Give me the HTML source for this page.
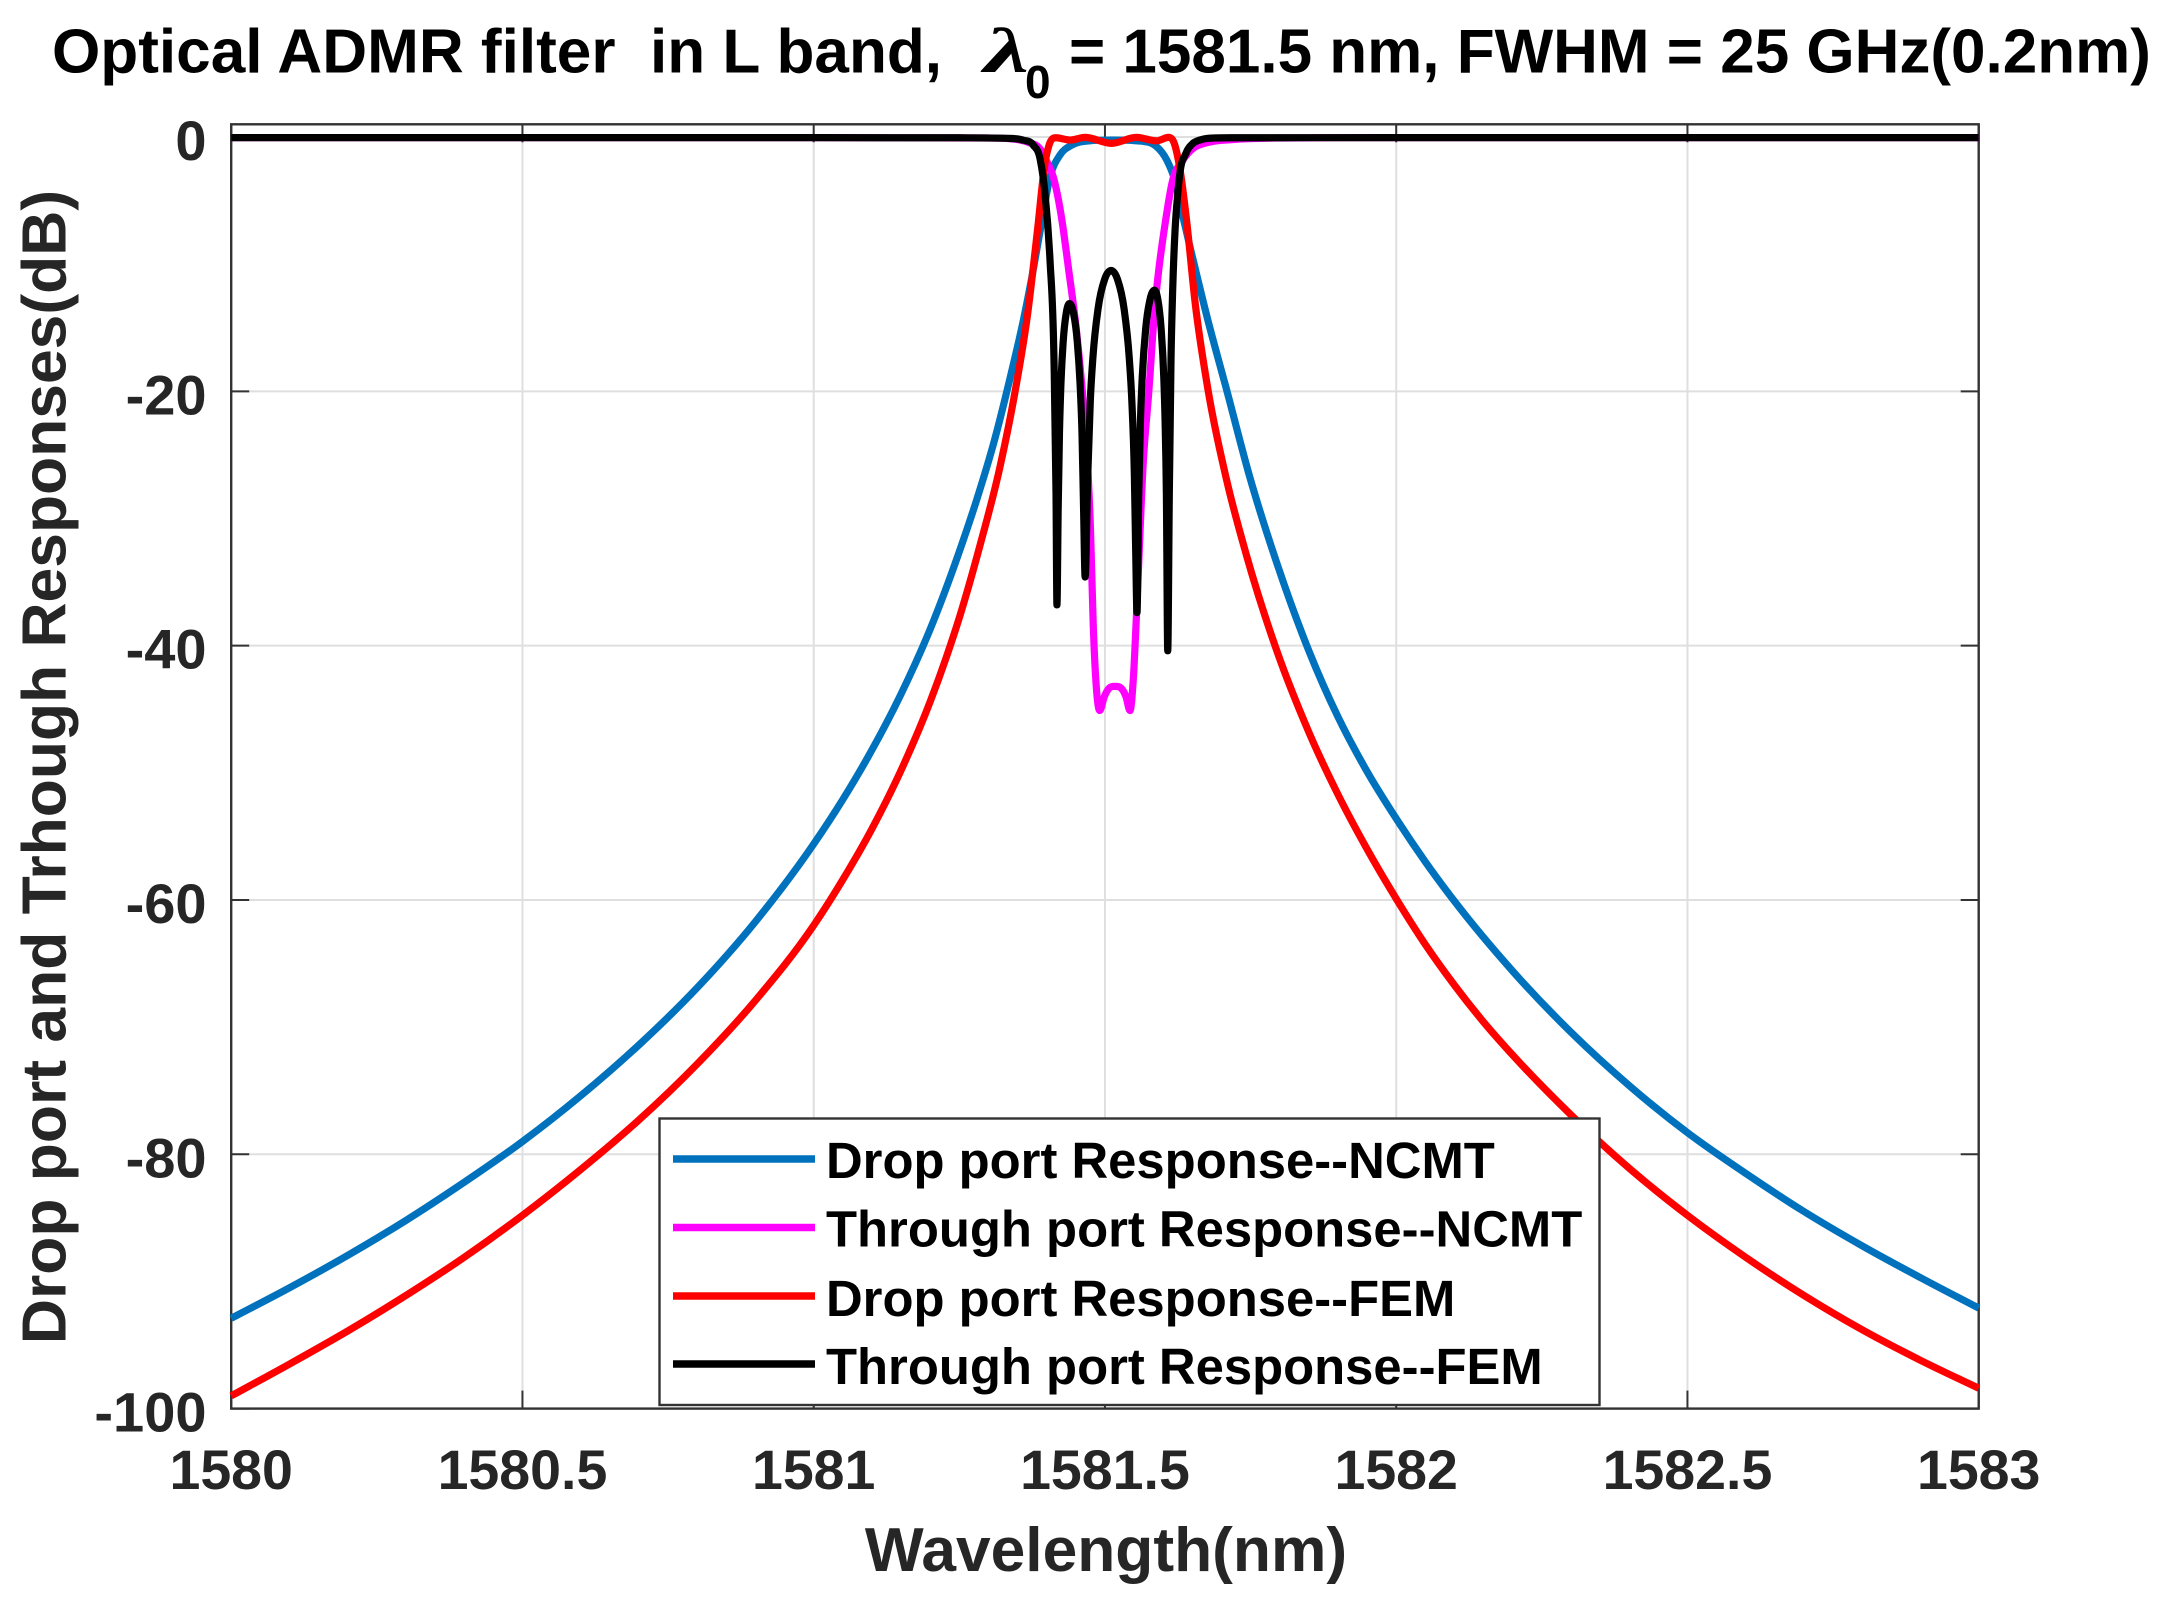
<!DOCTYPE html>
<html lang="en">
<head>
<meta charset="utf-8">
<title>Optical ADMR filter in L band</title>
<style>
html,body{margin:0;padding:0;background:#fff;width:2166px;height:1605px;overflow:hidden}
svg{display:block}
text{font-family:"Liberation Sans",Arial,sans-serif;font-weight:bold}
</style>
</head>
<body>
<svg id="chart" xmlns="http://www.w3.org/2000/svg" width="2166" height="1605" viewBox="0 0 2166 1605">
  <rect x="0" y="0" width="2166" height="1605" fill="#fff"/>
  <g id="grid"></g>
  <g id="ticks"></g>
  <rect x="231.2" y="124.3" width="1747.5" height="1284.3" fill="none" stroke="#333" stroke-width="2.4"/>
  <g id="series"></g>
  <g id="tick-labels"></g>

  <g fill="#000">
    <text x="52" y="72.5" font-size="62.1" xml:space="preserve">Optical ADMR filter  in L band,</text>
    <text x="984" y="72" font-size="64" font-style="italic" textLength="45" lengthAdjust="spacingAndGlyphs" style="font-family:'Liberation Serif',serif">λ</text>
    <text x="1025" y="98" font-size="46">0</text>
    <text x="1069" y="72.5" font-size="62" xml:space="preserve">= 1581.5 nm, FWHM = 25 GHz(0.2nm)</text>
  </g>

  <text x="1106" y="1571" font-size="62.3" fill="#262626" text-anchor="middle">Wavelength(nm)</text>
  <text transform="translate(65.5 767) rotate(-90)" font-size="62.4" fill="#262626" text-anchor="middle">Drop port and Trhough Responses(dB)</text>

  <g>
    <rect x="659.5" y="1118.5" width="940" height="286.5" fill="#fff" stroke="#333" stroke-width="2.4"/>
    <g>
      <line x1="673" x2="815" y1="1159" y2="1159" stroke="#0072BD" stroke-width="7.4"/>
      <text x="826" y="1178" font-size="50.8" fill="#000">Drop port Response--NCMT</text>
    </g>
    <g>
      <line x1="673" x2="815" y1="1227.5" y2="1227.5" stroke="#FF00FF" stroke-width="7.4"/>
      <text x="826" y="1246.5" font-size="50.8" fill="#000">Through port Response--NCMT</text>
    </g>
    <g>
      <line x1="673" x2="815" y1="1296" y2="1296" stroke="#FF0000" stroke-width="7.4"/>
      <text x="826" y="1316" font-size="50.8" fill="#000">Drop port Response--FEM</text>
    </g>
    <g>
      <line x1="673" x2="815" y1="1364" y2="1364" stroke="#000000" stroke-width="7.4"/>
      <text x="826" y="1384" font-size="50.8" fill="#000">Through port Response--FEM</text>
    </g>
  </g>
</svg>
<script>
const xTicks = [1580, 1580.5, 1581, 1581.5, 1582, 1582.5, 1583];
const xTickLabels = ["1580", "1580.5", "1581", "1581.5", "1582", "1582.5", "1583"];
const yTicks = [0, -20, -40, -60, -80, -100];
const yTickLabels = ["0", "-20", "-40", "-60", "-80", "-100"];

const dropNcmtWavelength = [1580,1580.1,1580.2,1580.3,1580.4,1580.5,1580.6,1580.7,1580.8,1580.9,1581,1581.05,1581.1,1581.15,1581.2,1581.25,1581.28,1581.31,1581.34,1581.36,1581.373,1581.389,1581.406,1581.423,1581.443,1581.474,1581.511,1581.554,1581.589,1581.606,1581.62,1581.634,1581.65,1581.675,1581.709,1581.749,1581.795,1581.85,1581.9,1581.95,1582,1582.05,1582.1,1582.2,1582.3,1582.4,1582.5,1582.6,1582.7,1582.8,1582.9,1583];
const dropNcmtDb = [-92.9,-90.5,-87.95,-85.2,-82.2,-79,-75.4,-71.4,-66.9,-61.7,-55.6,-52.1,-48.2,-43.8,-38.7,-32.6,-28.5,-23.9,-18.4,-14.4,-11.4,-7.3,-3.1,-1.4,-0.64,-0.3,-0.24,-0.3,-0.77,-1.8,-3.4,-6.3,-9.4,-14.1,-19.9,-26.8,-33.5,-40.4,-45.6,-49.9,-53.6,-57,-60.1,-65.6,-70.4,-74.6,-78.3,-81.5,-84.5,-87.2,-89.7,-92.1];

const throughNcmtWavelength = [1580,1581,1581.3,1581.35,1581.37,1581.388,1581.4,1581.411,1581.426,1581.437,1581.451,1581.46,1581.468,1581.475,1581.48,1581.486,1581.491,1581.499,1581.506,1581.517,1581.529,1581.536,1581.543,1581.549,1581.554,1581.566,1581.575,1581.586,1581.592,1581.603,1581.615,1581.634,1581.651,1581.675,1581.72,1581.8,1582,1583];
const throughNcmtDb = [-0.05,-0.05,-0.08,-0.2,-0.45,-0.9,-1.9,-3.1,-6.5,-10.2,-15.2,-19.4,-24,-30.65,-38.5,-43.75,-45.1,-44,-43.4,-43.2,-43.4,-44,-45.1,-42.4,-37.7,-25.4,-20.2,-13.2,-10.6,-6.9,-3.65,-1.8,-0.9,-0.45,-0.2,-0.08,-0.05,-0.05];

const dropFemWavelength = [1580,1580.1,1580.2,1580.3,1580.4,1580.5,1580.6,1580.7,1580.8,1580.9,1581,1581.05,1581.1,1581.15,1581.2,1581.227,1581.25,1581.285,1581.32,1581.345,1581.367,1581.384,1581.397,1581.404,1581.416,1581.44,1581.466,1581.511,1581.554,1581.589,1581.609,1581.619,1581.629,1581.64,1581.655,1581.677,1581.709,1581.743,1581.795,1581.85,1581.9,1581.95,1582,1582.05,1582.1,1582.15,1582.2,1582.3,1582.4,1582.5,1582.6,1582.7,1582.8,1582.9,1583];
const dropFemDb = [-99,-96.5,-93.9,-91.1,-88.1,-84.8,-81.2,-77.3,-72.9,-67.9,-62,-58.4,-54.4,-49.8,-44.4,-41,-37.8,-32.2,-25.9,-20.2,-14,-7.4,-2.07,-0.64,-0.06,-0.24,-0.03,-0.5,-0.03,-0.3,-0.03,-0.5,-2.6,-6.5,-13.1,-19.9,-27,-32.9,-40.4,-46.8,-51.7,-56,-59.9,-63.5,-66.7,-69.6,-72.2,-76.9,-81.1,-84.8,-88.1,-91.1,-93.8,-96.2,-98.4];

const throughFemWavelength = [1580,1581,1581.25,1581.33,1581.359,1581.377,1581.389,1581.397,1581.4057,1581.4125,1581.416,1581.4176,1581.4197,1581.4219,1581.424,1581.4283,1581.4337,1581.439,1581.4458,1581.4525,1581.4579,1581.4606,1581.4633,1581.466,1581.4705,1581.4749,1581.4793,1581.4882,1581.4994,1581.5105,1581.5216,1581.5328,1581.5417,1581.5461,1581.5505,1581.5528,1581.555,1581.558,1581.561,1581.564,1581.57,1581.5775,1581.585,1581.5907,1581.5964,1581.601,1581.6032,1581.6055,1581.6078,1581.6105,1581.6134,1581.6163,1581.6204,1581.6247,1581.6285,1581.6388,1581.651,1581.663,1581.675,1581.72,1582,1583];
const throughFemDb = [-0.05,-0.05,-0.06,-0.1,-0.24,-0.64,-1.8,-4.4,-9.7,-17.5,-28,-36.8,-29.2,-23.3,-19.96,-16.1,-13.8,-13.1,-13.8,-16.1,-20,-23.3,-29.2,-34.6,-26.6,-20.7,-17.36,-13.5,-11.2,-10.5,-11.2,-13.5,-17.36,-20.7,-26.6,-32.6,-37.4,-28.15,-22.25,-18.9,-15.05,-12.75,-12.05,-12.75,-15.05,-18.9,-22.25,-28.15,-40.4,-28,-17.5,-12,-7.3,-4.6,-2.9,-1.3,-0.5,-0.24,-0.11,-0.06,-0.05,-0.05];

const xMin = 1580, xMax = 1583, yMin = -100, yMax = 1;
const plotLeft = 231.2, plotRight = 1978.7, plotTop = 124.3, plotBottom = 1408.6;
const tickLength = 18;
const SVGNS = "http://www.w3.org/2000/svg";

function xScale(v) { return plotLeft + (v - xMin) / (xMax - xMin) * (plotRight - plotLeft); }
function yScale(v) { return plotBottom - (v - yMin) / (yMax - yMin) * (plotBottom - plotTop); }

function makeLine(x1, y1, x2, y2, color, width) {
  const l = document.createElementNS(SVGNS, "line");
  l.setAttribute("x1", x1);
  l.setAttribute("y1", y1);
  l.setAttribute("x2", x2);
  l.setAttribute("y2", y2);
  l.setAttribute("stroke", color);
  l.setAttribute("stroke-width", width);
  return l;
}

/* C1 cubic path: three-point tangents clipped so notches do not overshoot */
function curvePath(xs, ys) {
  const n = xs.length, d = [], m = [];
  for (let i = 0; i < n - 1; i++) d.push((ys[i + 1] - ys[i]) / (xs[i + 1] - xs[i]));
  m.push(d[0]);
  for (let i = 1; i < n - 1; i++) {
    if (d[i - 1] * d[i] <= 0) { m.push(0); continue; }
    const h0 = xs[i] - xs[i - 1], h1 = xs[i + 1] - xs[i];
    const t = (h1 * d[i - 1] + h0 * d[i]) / (h0 + h1);
    const lim = 3 * Math.min(Math.abs(d[i - 1]), Math.abs(d[i]));
    m.push(Math.sign(t) * Math.min(Math.abs(t), lim));
  }
  m.push(d[n - 2]);
  let p = "M" + xs[0].toFixed(2) + " " + ys[0].toFixed(2);
  for (let i = 0; i < n - 1; i++) {
    const h = (xs[i + 1] - xs[i]) / 3;
    p += "C" + (xs[i] + h).toFixed(2) + " " + (ys[i] + m[i] * h).toFixed(2) + " " +
         (xs[i + 1] - h).toFixed(2) + " " + (ys[i + 1] - m[i + 1] * h).toFixed(2) + " " +
         xs[i + 1].toFixed(2) + " " + ys[i + 1].toFixed(2);
  }
  return p;
}

const gridGroup = document.getElementById("grid");
const tickGroup = document.getElementById("ticks");
const labelGroup = document.getElementById("tick-labels");
const seriesGroup = document.getElementById("series");

xTicks.forEach(function (t, i) {
  const px = xScale(t);
  if (i > 0 && i < xTicks.length - 1) {
    const g = makeLine(px, plotTop, px, plotBottom, "#dfdfdf", 2);
    
    
    gridGroup.appendChild(g);
  }
  const a = makeLine(px, plotBottom, px, plotBottom - tickLength, "#333", 2);
  
  
  tickGroup.appendChild(a);
  const b = makeLine(px, plotTop, px, plotTop + tickLength, "#333", 2);
  
  
  tickGroup.appendChild(b);
  const txt = document.createElementNS(SVGNS, "text");
  
  
  txt.setAttribute("x", px);
  txt.setAttribute("y", 1489);
  txt.setAttribute("font-size", 55.5);
  txt.setAttribute("fill", "#262626");
  txt.setAttribute("text-anchor", "middle");
  txt.textContent = xTickLabels[i];
  labelGroup.appendChild(txt);
});

yTicks.forEach(function (t, i) {
  const py = yScale(t);
  if (i < yTicks.length - 1) {
    const g = makeLine(plotLeft, py, plotRight, py, "#dfdfdf", 2);
    
    
    gridGroup.appendChild(g);
  }
  const a = makeLine(plotLeft, py, plotLeft + tickLength, py, "#333", 2);
  
  
  tickGroup.appendChild(a);
  const b = makeLine(plotRight, py, plotRight - tickLength, py, "#333", 2);
  
  
  tickGroup.appendChild(b);
  const txt = document.createElementNS(SVGNS, "text");
  
  
  txt.setAttribute("x", 206.5);
  txt.setAttribute("y", py + 23);
  txt.setAttribute("font-size", 56);
  txt.setAttribute("fill", "#262626");
  txt.setAttribute("text-anchor", "end");
  txt.textContent = yTickLabels[i];
  labelGroup.appendChild(txt);
});

function drawSeries(name, wavelengths, values, color) {
  const el = document.createElementNS(SVGNS, "path");
  
  
  el.setAttribute("d", curvePath(wavelengths.map(xScale), values.map(yScale)));
  el.setAttribute("fill", "none");
  el.setAttribute("stroke", color);
  el.setAttribute("stroke-width", 7.2);
  el.setAttribute("stroke-linejoin", "round");
  seriesGroup.appendChild(el);
}

drawSeries("line-drop-ncmt", dropNcmtWavelength, dropNcmtDb, "#0072BD");
drawSeries("line-through-ncmt", throughNcmtWavelength, throughNcmtDb, "#FF00FF");
drawSeries("line-drop-fem", dropFemWavelength, dropFemDb, "#FF0000");
drawSeries("line-through-fem", throughFemWavelength, throughFemDb, "#000000");
</script>
</body>
</html>
